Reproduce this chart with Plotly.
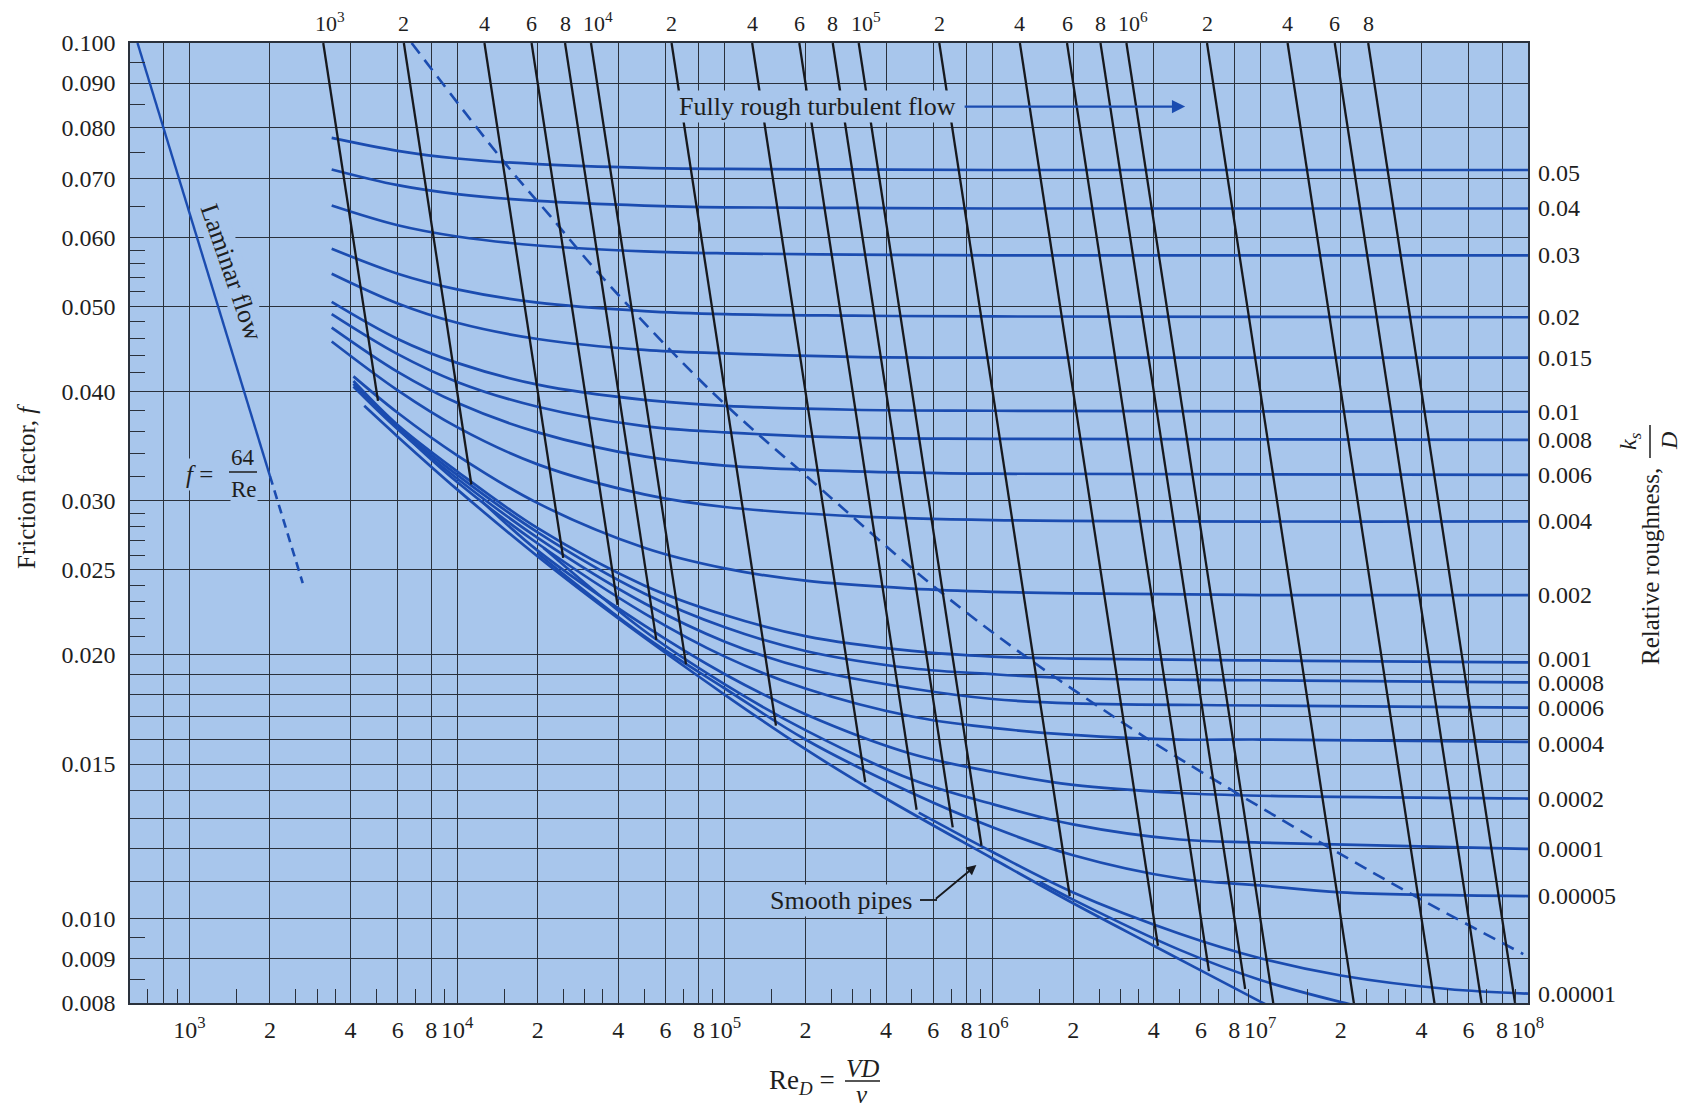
import numpy as np
import plotly.graph_objects as go

# ------------------------------------------------------------------ data
F_TOP, F_BOTTOM = 0.1, 0.008
RE_LEFT, RE_RIGHT = 600, 1e8

# axis ticks / grid
x_tick_vals = [800, 1e3, 2e3, 4e3, 6e3, 8e3, 1e4, 2e4, 4e4, 6e4, 8e4, 1e5, 2e5, 4e5, 6e5, 8e5,
               1e6, 2e6, 4e6, 6e6, 8e6, 1e7, 2e7, 4e7, 6e7, 8e7, 1e8]
x_tick_text = ["", "10<sup>3</sup>", "2", "4", "6", "8", "10<sup>4</sup>", "2", "4", "6", "8",
               "10<sup>5</sup>", "2", "4", "6", "8", "10<sup>6</sup>", "2", "4", "6", "8",
               "10<sup>7</sup>", "2", "4", "6", "8", "10<sup>8</sup>"]
x_minor_mult = [1.5, 2.5, 3, 3.5, 5, 7, 9]
y_tick_vals = [0.1, 0.09, 0.08, 0.07, 0.06, 0.05, 0.04, 0.03, 0.025, 0.02, 0.019, 0.018, 0.017,
               0.016, 0.015, 0.014, 0.013, 0.012, 0.011, 0.010, 0.009, 0.008]
y_tick_text = ["0.100", "0.090", "0.080", "0.070", "0.060", "0.050", "0.040", "0.030", "0.025",
               "0.020", "", "", "", "", "0.015", "", "", "", "", "0.010", "0.009", "0.008"]
y_minor_vals = [0.095, 0.085, 0.075, 0.065, 0.058, 0.056, 0.054, 0.052, 0.048, 0.046, 0.044,
                0.042, 0.038, 0.036, 0.034, 0.032, 0.029, 0.028, 0.027, 0.026, 0.024, 0.023,
                0.022, 0.021, 0.0095, 0.0085]

# Reynolds-number stations
re_rough = [3400, 6000, 1e4, 2e4, 5e4, 1e5, 3e5, 1e6, 1e8]
re_bundle = [4100, 6000, 1e4, 2e4, 5e4, 1e5, 2e5, 5e5, 1e6, 2e6, 1e7, 1e8]
re_k0004 = [6100, 1e4, 2e4, 5e4, 1e5, 2e5, 5e5, 1e6, 2e6, 5e6, 1e7, 1e8]
re_k0002 = [12300, 2e4, 5e4, 1e5, 2e5, 5e5, 1e6, 2e6, 5e6, 1e7, 1e8]
re_k0001 = [21000, 5e4, 1e5, 2e5, 5e5, 1e6, 2e6, 5e6, 1e7, 1e8]
re_k00005 = [20000, 5e4, 1e5, 2e5, 5e5, 1e6, 2e6, 5e6, 1e7, 2e7, 1e8]
re_k00001 = [5.3e5, 1e6, 2e6, 5e6, 1e7, 2e7, 5e7, 1e8]
re_k000005 = [1.5e6, 2e6, 5e6, 1e7, 2e7, 3e7]
re_smooth = [4500, 6000, 1e4, 2e4, 4e4, 1e5, 2e5, 4e5, 1e6, 2e6, 4e6, 1e7, 1.3e7]

# friction factor
f_k05 = [0.0779, 0.0753, 0.0738, 0.0727, 0.0720, 0.0718, 0.0717, 0.0716, 0.0716]
f_k04 = [0.0717, 0.0688, 0.0672, 0.0660, 0.0652, 0.0649, 0.0648, 0.0647, 0.0647]
f_k03 = [0.0652, 0.0619, 0.0601, 0.0587, 0.0578, 0.0575, 0.0573, 0.0572, 0.0572]
f_k02 = [0.0582, 0.0545, 0.0523, 0.0505, 0.0494, 0.0490, 0.0488, 0.0487, 0.0486]
f_k015 = [0.0545, 0.0504, 0.0479, 0.0459, 0.0446, 0.0442, 0.0438, 0.0437, 0.0437]
f_k01 = [0.0506, 0.0459, 0.0431, 0.0407, 0.0391, 0.0385, 0.0381, 0.0380, 0.0379]
f_k008 = [0.0490, 0.0441, 0.0410, 0.0384, 0.0365, 0.0359, 0.0354, 0.0353, 0.0352]
f_k006 = [0.0473, 0.0421, 0.0388, 0.0359, 0.0337, 0.0329, 0.0324, 0.0322, 0.0321]
f_k004 = [0.0456, 0.0401, 0.0364, 0.0330, 0.0305, 0.0295, 0.0288, 0.0285, 0.0284]
f_k002 = [0.0416, 0.0378, 0.0338, 0.0298, 0.0265, 0.0251, 0.0243, 0.0238, 0.0236, 0.0235, 0.0234, 0.0234]
f_k001 = [0.0411, 0.0366, 0.0324, 0.0279, 0.0240, 0.0222, 0.0210, 0.0202, 0.0199, 0.0198, 0.0197, 0.0196]
f_k0008 = [0.0408, 0.0364, 0.0321, 0.0276, 0.0235, 0.0215, 0.0202, 0.0193, 0.0190, 0.0188, 0.0187, 0.0186]
f_k0006 = [0.0405, 0.0362, 0.0318, 0.0272, 0.0229, 0.0207, 0.0193, 0.0183, 0.0178, 0.0176, 0.0175, 0.0174]
f_k0004 = [0.0361, 0.0315, 0.0268, 0.0223, 0.0199, 0.0183, 0.0170, 0.0165, 0.0162, 0.0160, 0.0160, 0.0159]
f_k0002 = [0.0300, 0.0263, 0.0216, 0.0190, 0.0171, 0.0154, 0.0147, 0.0142, 0.0139, 0.0138, 0.0137]
f_k0001 = [0.0265, 0.0213, 0.0185, 0.0164, 0.0144, 0.0135, 0.0128, 0.0123, 0.0122, 0.0120]
f_k00005 = [0.0261, 0.0210, 0.0183, 0.0160, 0.0139, 0.0127, 0.0118, 0.0111, 0.0109, 0.0107, 0.0106]
f_k00001 = [0.0132, 0.0119, 0.0107, 0.0096, 0.0090, 0.0086, 0.0083, 0.0082]
f_k000005 = [0.0110, 0.0105, 0.0092, 0.0085, 0.00802, 0.0078]
f_smooth = [0.0385, 0.0355, 0.0309, 0.0259, 0.0220, 0.0180, 0.0156, 0.0137, 0.0117, 0.0104, 0.0093, 0.00803, 0.0077]

ks_labels = ["0.05", "0.04", "0.03", "0.02", "0.015", "0.01", "0.008", "0.006", "0.004", "0.002",
             "0.001", "0.0008", "0.0006", "0.0004", "0.0002", "0.0001", "0.00005", "0.00001"]
ks_label_nudge = [-3, 0, 0, 0, 0, 0, 0, 0, 0, 0, 3, -1, 0, -2, 0, 0, 0, 0]   # px, keeps labels apart

# lines of constant Re*sqrt(f) (top scale) and the f where each one stops
re_sqrt_f = [1e3, 2e3, 4e3, 6e3, 8e3, 1e4, 2e4, 4e4, 6e4, 8e4, 1e5, 2e5, 4e5, 6e5, 8e5,
             1e6, 2e6, 4e6, 6e6, 8e6]
re_sqrt_f_text = ["10<sup>3</sup>", "2", "4", "6", "8", "10<sup>4</sup>", "2", "4", "6", "8",
                  "10<sup>5</sup>", "2", "4", "6", "8", "10<sup>6</sup>", "2", "4", "6", "8"]
line_end_f = [0.0390, 0.0313, 0.0258, 0.0228, 0.0208, 0.0195, 0.0166, 0.0143, 0.0133, 0.0127,
              0.0121, 0.0106, 0.0093, 0.0087, 0.0083, 0.0079, 0.0079, 0.0079, 0.0079, 0.0079]

# dashed limit of the fully rough zone
dash_re = [6760, 1.52e4, 2.23e4, 3.39e4, 8.9e4, 2.04e5, 6.17e5, 1.33e6, 3.0e6, 4.52e6, 1.72e7, 4.0e7, 9.6e7]
dash_f = [0.100, 0.0727, 0.0634, 0.0545, 0.0400, 0.0319, 0.0238, 0.0199, 0.0168, 0.0155, 0.01215, 0.0105, 0.0091]

# laminar line
lam_re = [640, 2000]
lam_f = [0.100, 0.032]
lam_re_dash = [2000, 2650]
lam_f_dash = [0.032, 0.02415]

# ------------------------------------------------------------------ style
BG = "#a8c6ec"
BLUE = "#1b4cb0"
DARK = "#17191e"
GRID = "#2a313c"
FONT = "Liberation Serif"
TXT = "#1e1e1e"

W, H = 1691, 1108
L, R, T, B = 130, 1528, 43, 1003


def P(x, y):
    return (x - L) / (R - L), (B - y) / (B - T)


fig = go.Figure()

curves = [
    (re_rough, f_k05), (re_rough, f_k04), (re_rough, f_k03), (re_rough, f_k02), (re_rough, f_k015),
    (re_rough, f_k01), (re_rough, f_k008), (re_rough, f_k006), (re_rough, f_k004),
    (re_bundle, f_k002), (re_bundle, f_k001), (re_bundle, f_k0008), (re_bundle, f_k0006),
    (re_k0004, f_k0004), (re_k0002, f_k0002), (re_k0001, f_k0001), (re_k00005, f_k00005),
    (re_k00001, f_k00001),
]
for (rx, fy), lab in zip(curves, ks_labels):
    fig.add_trace(go.Scatter(x=rx, y=fy, mode="lines", name=lab,
                             line=dict(color=BLUE, width=2.7, shape="spline", smoothing=1.0)))
fig.add_trace(go.Scatter(x=re_k000005, y=f_k000005, mode="lines", name="0.000005",
                         line=dict(color=BLUE, width=2.7, shape="spline")))
fig.add_trace(go.Scatter(x=re_smooth, y=f_smooth, mode="lines", name="Smooth pipes",
                         line=dict(color=BLUE, width=2.7, shape="spline")))

# laminar
fig.add_trace(go.Scatter(x=lam_re, y=lam_f, mode="lines", line=dict(color=BLUE, width=2.4)))
fig.add_trace(go.Scatter(x=lam_re_dash, y=lam_f_dash, mode="lines",
                         line=dict(color=BLUE, width=2.6, dash="9px,6px")))
# fully rough boundary
fig.add_trace(go.Scatter(x=dash_re, y=dash_f, mode="lines",
                         line=dict(color=BLUE, width=2.6, dash="13px,8px", shape="spline")))

# constant Re*sqrt(f) lines
sx, sy = [], []
for c, fe in zip(re_sqrt_f, line_end_f):
    sx += [c / np.sqrt(F_TOP), c / np.sqrt(fe), None]
    sy += [F_TOP, fe, None]
fig.add_trace(go.Scatter(x=sx, y=sy, mode="lines", line=dict(color=DARK, width=2.3)))

ann = []


def txt(x, y, text, size=25, angle=0, bg=None, pad=1, ref="paper"):
    d = dict(x=x, y=y, xref=ref, yref=ref, text=text, showarrow=False, textangle=angle,
             xanchor="center", yanchor="middle", borderpad=pad,
             font=dict(family=FONT, size=size, color=TXT))
    if bg:
        d["bgcolor"] = bg
    return d


# top scale labels
for c, t in zip(re_sqrt_f, re_sqrt_f_text):
    ann.append(dict(x=np.log10(c / np.sqrt(F_TOP)), y=1, xref="x", yref="paper", text=t,
                    showarrow=False, xanchor="center", yanchor="bottom", yshift=5,
                    xshift=7 if "sup" in t else 0,
                    font=dict(family=FONT, size=22, color=TXT)))
# right roughness labels
for (rx, fy), lab, nud in zip(curves, ks_labels, ks_label_nudge):
    ann.append(dict(x=1, y=np.log10(fy[-1]), xref="paper", yref="y", text=lab, showarrow=False,
                    xanchor="left", yanchor="middle", xshift=8, yshift=nud,
                    font=dict(family=FONT, size=24, color=TXT)))

# fully rough label with arrow
F_ARROW = 0.0846
d = txt(np.log10(2.22e5), np.log10(F_ARROW), "Fully rough turbulent flow", size=26, bg=BG, ref="x")
d["yref"] = "y"
ann.append(d)
ann.append(dict(x=np.log10(5.24e6), y=np.log10(F_ARROW), xref="x", yref="y", text="",
                showarrow=True, ax=-222, ay=0, arrowhead=2, arrowsize=1.2, arrowwidth=2.2,
                arrowcolor=BLUE, standoff=0))

# laminar annotations
ann.append(txt(*P(232, 272), "Laminar flow", size=26, angle=71, bg=BG, pad=0))
ann.append(txt(*P(199, 474), "<i>f</i> =", size=25, bg=BG, pad=2))
ann.append(txt(*P(243, 457), "64", size=23, bg=BG, pad=0))
ann.append(txt(*P(244, 490), "Re", size=23, bg=BG, pad=0))

# smooth pipes
ann.append(txt(*P(841, 900), "Smooth pipes", size=26, bg=BG, pad=1))
ann.append(dict(x=np.log10(8.7e5), y=np.log10(0.01150), xref="x", yref="y", text="",
                showarrow=True, ax=-42, ay=35, arrowhead=2, arrowsize=1.1, arrowwidth=1.8,
                arrowcolor=DARK, standoff=0))

# axis titles
ann.append(txt(*P(26, 487), "Friction factor, <i>f</i>", size=25, angle=-90))
ann.append(txt(*P(1650, 566), "Relative roughness,", size=25, angle=-90))
ann.append(txt(*P(1630, 441), "<i>k</i><sub><i>s</i></sub>", size=24, angle=-90))
ann.append(txt(*P(1669, 441), "<i>D</i>", size=24, angle=-90))
ann.append(txt(*P(802, 1082), "Re<sub><i>D</i></sub> =", size=27))
ann.append(txt(*P(862, 1068), "<i>VD</i>", size=25))
ann.append(txt(*P(862, 1094), "<i>ν</i>", size=25))

shapes = []
# arrow line left of the fully-rough label
shapes.append(dict(type="line", xref="x", yref="y", x0=np.log10(1.11e4), x1=np.log10(6.0e4),
                   y0=np.log10(F_ARROW), y1=np.log10(F_ARROW), line=dict(color=BLUE, width=2.2)))
# hook of smooth pipes arrow
x0, y0 = P(920, 900)
x1, y1 = P(937, 900)
shapes.append(dict(type="line", xref="paper", yref="paper", x0=x0, x1=x1, y0=y0, y1=y1,
                   line=dict(color=DARK, width=1.8)))
# fraction bars
for (a, b, c, e) in [(229, 472, 257, 472), (845, 1081, 880, 1081), (1650, 425, 1650, 458)]:
    x0, y0 = P(a, b)
    x1, y1 = P(c, e)
    shapes.append(dict(type="line", xref="paper", yref="paper", x0=x0, x1=x1, y0=y0, y1=y1,
                       line=dict(color=TXT, width=1.5)))

x_minor = [m * dd for dd in [1e3, 1e4, 1e5, 1e6, 1e7] for m in x_minor_mult]
x_minor = [700, 900] + x_minor

fig.update_layout(
    width=W, height=H, autosize=False,
    margin=dict(l=L, r=W - R, t=T, b=H - B, pad=0),
    paper_bgcolor="white", plot_bgcolor=BG, showlegend=False,
    annotations=ann, shapes=shapes,
    xaxis=dict(type="log", range=[np.log10(RE_LEFT), np.log10(RE_RIGHT)],
               tickmode="array", tickvals=x_tick_vals, ticktext=x_tick_text, ticks="",
               showgrid=True, gridcolor=GRID, gridwidth=1.2, zeroline=False,
               showline=True, linecolor=GRID, linewidth=1.6, mirror=True,
               tickfont=dict(family=FONT, size=24, color=TXT), ticklabelstandoff=4,
               minor=dict(tickmode="array", tickvals=x_minor, ticks="inside", ticklen=14,
                          tickwidth=1.3, tickcolor=GRID, showgrid=False)),
    yaxis=dict(type="log", range=[np.log10(F_BOTTOM), np.log10(F_TOP)],
               tickmode="array", tickvals=y_tick_vals, ticktext=y_tick_text, ticks="",
               showgrid=True, gridcolor=GRID, gridwidth=1.2, zeroline=False,
               showline=True, linecolor=GRID, linewidth=1.6, mirror=True,
               tickfont=dict(family=FONT, size=24, color=TXT), ticklabelstandoff=8,
               minor=dict(tickmode="array", tickvals=y_minor_vals, ticks="inside", ticklen=15,
                          tickwidth=1.3, tickcolor=GRID, showgrid=False)),
)

fig.write_html("out.html", config={"displayModeBar": False},
               post_script="document.body.style.margin='0px';document.body.style.overflow='hidden';")
